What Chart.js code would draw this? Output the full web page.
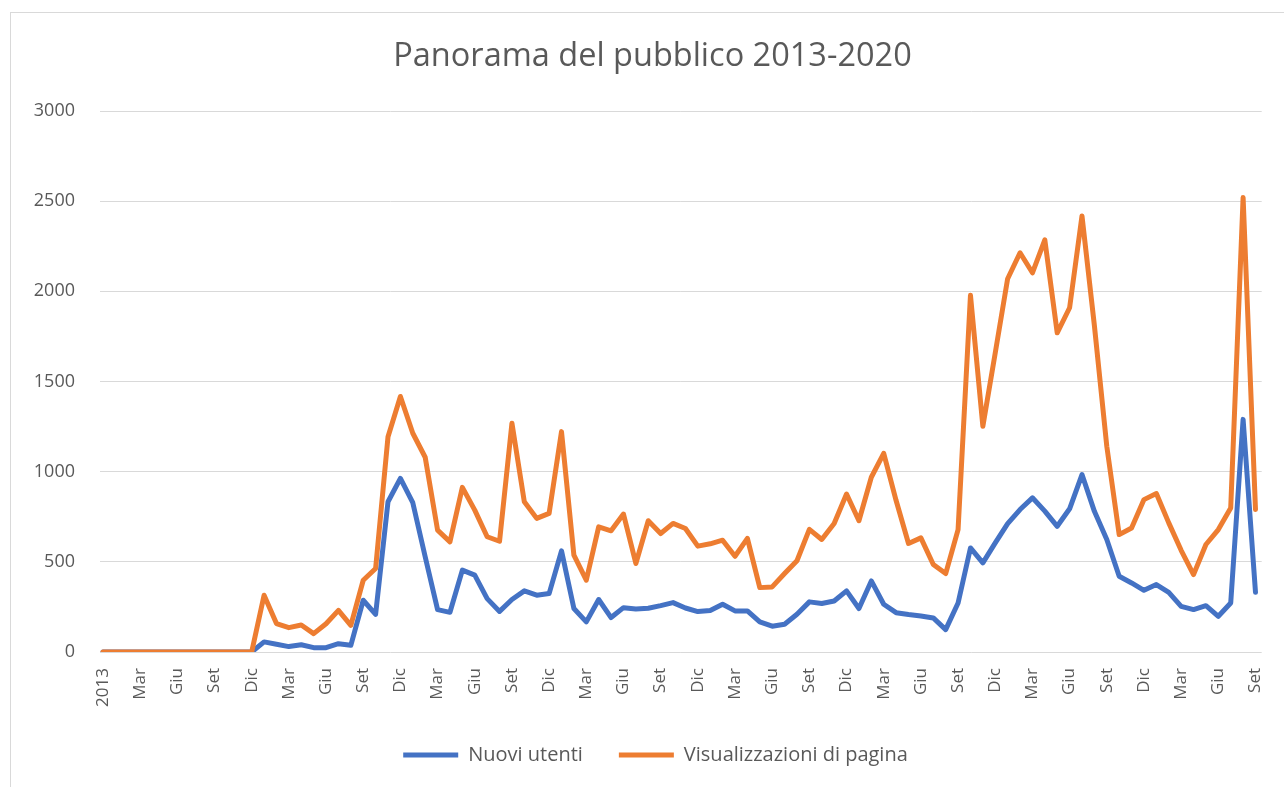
<!DOCTYPE html>
<html>
<head>
<meta charset="utf-8">
<script src="https://cdn.jsdelivr.net/npm/chart.js@4/dist/chart.umd.min.js"></script>
<style>
    body { margin: 0; background: #fff; overflow: hidden; }
    .frame { position: absolute; left: 10px; top: 12px; width: 1300px; height: 800px; border: 1px solid #d9d9d9; }
    #chart { position: absolute; left: 0; top: 0; }
</style>
</head>
<body>
<div class="frame"></div>
<canvas id="chart" width="1284" height="787"></canvas>
<script>
// Month names for the x axis (one point per month, first one shown as the year)
const monthNames = ['Gen', 'Feb', 'Mar', 'Apr', 'Mag', 'Giu', 'Lug', 'Ago', 'Set', 'Ott', 'Nov', 'Dic'];
const categories = [];
for (let i = 0; i < 94; i++) {
    categories.push(i === 0 ? '2013' : monthNames[(11 + i) % 12]);
}

const seriesNames = ['Nuovi utenti', 'Visualizzazioni di pagina'];

const nuoviUtenti = [
    0, 0, 0, 0, 0, 0, 0, 0, 0, 0, 0, 0, 0,
    56, 43, 30, 40, 24, 24, 46, 37, 287, 209, 833, 963, 828, 528,
    235, 220, 454, 426, 296, 225, 291, 339, 315, 324, 561, 241,
    167, 291, 191, 246, 239, 243, 257, 274, 244, 224, 230, 265,
    228, 228, 167, 143, 154, 209, 278, 269, 283, 339, 241, 394,
    265, 218, 208, 200, 189, 124, 272, 577, 494, 605, 712, 790,
    855, 781, 697, 794, 984, 780, 624, 420, 383, 342, 374, 331,
    253, 235, 257, 198, 272, 1290, 331
];

const visualizzazioni = [
    0, 0, 0, 0, 0, 0, 0, 0, 0, 0, 0, 0, 0,
    315, 158, 135, 150, 102, 157, 231, 148, 398, 463, 1194, 1417, 1213, 1080,
    676, 611, 913, 787, 639, 614, 1269, 833, 741, 769, 1222, 537,
    398, 694, 672, 765, 491, 728, 657, 713, 685, 587, 600, 620,
    531, 630, 357, 361, 435, 506, 680, 624, 713, 876, 728, 969,
    1102, 840, 602, 633, 485, 435, 679, 1978, 1252, 1659, 2070, 2214,
    2103, 2285, 1770, 1909, 2418, 1810, 1141, 651, 688, 845, 879, 716,
    564, 429, 596, 679, 799, 2520, 790
];

const yTicks = [0, 500, 1000, 1500, 2000, 2500, 3000];

const blue = '#4472C4';
const orange = '#ED7D31';
const textColor = '#595959';

Chart.defaults.font.family = "'Open Sans', sans-serif";
Chart.defaults.color = textColor;

function points(values) {
    return values.map((v, i) => ({ x: i, y: v }));
}

// Excel centres title and legend a bit right of the canvas middle
const shiftBlocks = {
    id: 'shiftBlocks',
    afterLayout(chart) {
        chart.titleBlock.left += 20;
        chart.titleBlock.right += 20;
        chart.legend.left += 23;
        chart.legend.right += 23;
    }
};

new Chart(document.getElementById('chart'), {
    type: 'line',
    data: {
        datasets: [
            {
                label: seriesNames[0],
                data: points(nuoviUtenti),
                borderColor: blue,
                backgroundColor: blue,
                borderWidth: 5,
                pointRadius: 0,
                tension: 0,
                borderJoinStyle: 'round',
                borderCapStyle: 'round',
                order: 2
            },
            {
                label: seriesNames[1],
                data: points(visualizzazioni),
                borderColor: orange,
                backgroundColor: orange,
                borderWidth: 5,
                pointRadius: 0,
                tension: 0,
                borderJoinStyle: 'round',
                borderCapStyle: 'round',
                order: 1
            }
        ]
    },
    options: {
        responsive: false,
        animation: false,
        layout: { padding: { left: 0, right: 19, top: 0, bottom: 12 } },
        plugins: {
            title: {
                display: true,
                text: 'Panorama del pubblico 2013-2020',
                color: textColor,
                font: { size: 32.5, weight: 'normal' },
                padding: { top: 37.5, bottom: 34.5 }
            },
            legend: {
                position: 'bottom',
                labels: {
                    usePointStyle: true,
                    pointStyle: 'line',
                    pointStyleWidth: 55,
                    padding: 36,
                    color: textColor,
                    font: { size: 20 },
                    sort: (a, b) => a.datasetIndex - b.datasetIndex
                }
            },
            tooltip: { enabled: false }
        },
        scales: {
            x: {
                type: 'linear',
                min: -0.24,
                max: 93.5,
                grid: { display: false },
                border: { display: false },
                afterFit: (scale) => { scale.height = 57; },
                afterBuildTicks: (scale) => {
                    scale.ticks = categories
                        .map((c, i) => ({ value: i }))
                        .filter(t => t.value % 3 === 0);
                },
                ticks: {
                    autoSkip: false,
                    minRotation: 90,
                    maxRotation: 90,
                    padding: 8,
                    font: { size: 17 },
                    callback: (value) => categories[value]
                }
            },
            y: {
                min: 0,
                max: 3000,
                afterFit: (scale) => { scale.width = 100; },
                afterBuildTicks: (scale) => {
                    scale.ticks = yTicks.map(v => ({ value: v }));
                },
                grid: { color: '#d9d9d9', lineWidth: 1, drawTicks: false },
                border: { display: false },
                ticks: {
                    padding: 25,
                    font: { size: 18 },
                    callback: (value) => String(value)
                }
            }
        }
    },
    plugins: [shiftBlocks]
});
</script>
</body>
</html>
